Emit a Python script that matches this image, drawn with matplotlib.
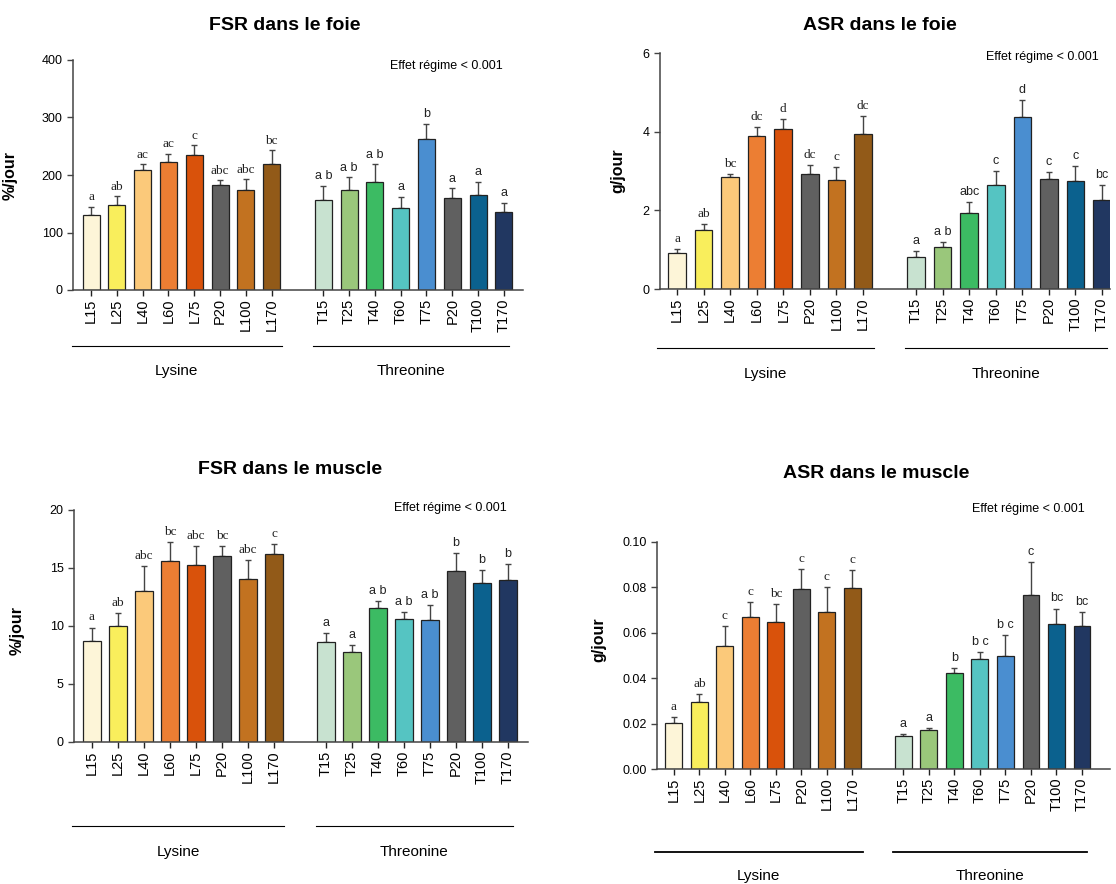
import numpy as np
import matplotlib
matplotlib.use("Agg")
import matplotlib.pyplot as plt
import matplotlib.transforms as mtrans

plt.rcParams['font.family'] = ['Liberation Sans', 'DejaVu Sans']

# categories
lys_cats = ['L15', 'L25', 'L40', 'L60', 'L75', 'P20', 'L100', 'L170']
thr_cats = ['T15', 'T25', 'T40', 'T60', 'T75', 'P20', 'T100', 'T170']

lys_colors = ['#FDF5D8', '#F9EE5C', '#FBC97A', '#EC7E33', '#D9520B', '#606060', '#C27220', '#925A18']
thr_colors = ['#C8E2D0', '#9AC77B', '#3CBB63', '#55C4C2', '#4A8ED0', '#606060', '#0B618E', '#213761']

# FSR dans le foie
fsr_foie_lys = [131, 148, 209, 223, 235, 182, 174, 220]
fsr_foie_lys_err = [14, 15, 10, 14, 17, 9, 19, 23]
fsr_foie_lys_let = ['a', 'ab', 'ac', 'ac', 'c', 'abc', 'abc', 'bc']
fsr_foie_thr = [156, 174, 187, 142, 263, 160, 165, 135]
fsr_foie_thr_err = [25, 22, 32, 20, 26, 17, 23, 17]
fsr_foie_thr_let = ['a b', 'a b', 'a b', 'a', 'b', 'a', 'a', 'a']

# ASR dans le foie
asr_foie_lys = [0.92, 1.49, 2.84, 3.88, 4.07, 2.92, 2.77, 3.94]
asr_foie_lys_err = [0.10, 0.17, 0.09, 0.24, 0.25, 0.23, 0.33, 0.45]
asr_foie_lys_let = ['a', 'ab', 'bc', 'dc', 'd', 'dc', 'c', 'dc']
asr_foie_thr = [0.81, 1.07, 1.94, 2.64, 4.37, 2.80, 2.75, 2.26]
asr_foie_thr_err = [0.16, 0.12, 0.28, 0.35, 0.44, 0.17, 0.37, 0.38]
asr_foie_thr_let = ['a', 'a b', 'abc', 'c', 'd', 'c', 'c', 'bc']

# FSR dans le muscle
fsr_mus_lys = [8.67, 10.0, 13.05, 15.59, 15.22, 16.05, 14.06, 16.22]
fsr_mus_lys_err = [1.2, 1.15, 2.1, 1.67, 1.67, 0.81, 1.59, 0.87]
fsr_mus_lys_let = ['a', 'ab', 'abc', 'bc', 'abc', 'bc', 'abc', 'c']
fsr_mus_thr = [8.62, 7.78, 11.53, 10.6, 10.49, 14.78, 13.72, 13.95]
fsr_mus_thr_err = [0.77, 0.58, 0.63, 0.58, 1.35, 1.52, 1.12, 1.41]
fsr_mus_thr_let = ['a', 'a', 'a b', 'a b', 'a b', 'b', 'b', 'b']

# ASR dans le muscle
asr_mus_lys = [0.0204, 0.0297, 0.054, 0.0671, 0.0647, 0.0793, 0.0691, 0.0797]
asr_mus_lys_err = [0.0025, 0.0035, 0.0088, 0.0066, 0.0081, 0.0088, 0.0109, 0.0081]
asr_mus_lys_let = ['a', 'ab', 'c', 'c', 'bc', 'c', 'c', 'c']
asr_mus_thr = [0.0144, 0.0172, 0.0424, 0.0484, 0.0499, 0.0765, 0.0638, 0.0631]
asr_mus_thr_err = [0.0012, 0.0010, 0.0019, 0.0031, 0.0091, 0.0147, 0.0069, 0.0060]
asr_mus_thr_let = ['a', 'a', 'b', 'b c', 'b c', 'c', 'bc', 'bc']

W, H = 1116, 884
fig = plt.figure(figsize=(W / 100, H / 100), dpi=100)


def rect(left, top, right, bottom):
    return [left / W, 1 - bottom / H, (right - left) / W, (bottom - top) / H]


def panel(r, title, tpos, lys, lys_err, lys_let, thr, thr_err, thr_let,
          ymax, yticks, ylab, ylab_xy, note_xy, xlim, grp_y, off, lw_grp=0.8):
    ax = fig.add_axes(r)
    x_l = np.arange(8)
    x_t = np.arange(8) + 9
    for xs, vals, errs, lets, cols, serif in [(x_l, lys, lys_err, lys_let, lys_colors, True),
                                             (x_t, thr, thr_err, thr_let, thr_colors, False)]:
        ax.bar(xs, vals, width=0.66, color=cols, edgecolor='#222222', linewidth=0.9, zorder=2)
        ax.errorbar(xs, vals, yerr=[np.zeros(8), errs], fmt='none', ecolor='#444444',
                    elinewidth=1, capsize=2.5, capthick=1, zorder=1)
        for x, v, e, t in zip(xs, vals, errs, lets):
            ax.text(x, v + e + off, t, ha='center', va='bottom', fontsize=9.5 if serif else 9,
                    family='Liberation Serif' if serif else 'Liberation Sans', color='#222222')
    ax.set_xlim(*xlim)
    ax.set_ylim(0, ymax)
    ax.set_yticks(yticks)
    ax.set_xticks(list(x_l) + list(x_t))
    ax.set_xticklabels(lys_cats + thr_cats, rotation=90, fontsize=10.5)
    ax.tick_params(axis='y', labelsize=9, length=4, width=1, color='#444444')
    ax.tick_params(axis='x', length=4, width=1, color='#222222', pad=2)
    for s in ['top', 'right']:
        ax.spines[s].set_visible(False)
    for s in ['left', 'bottom']:
        ax.spines[s].set_color('#444444')
        ax.spines[s].set_linewidth(1.1)
    ax.set_ylabel(ylab, fontsize=11.5, fontweight='bold')
    ax.yaxis.set_label_coords(*ylab_xy)
    ax.text(note_xy[0], note_xy[1], 'Effet régime < 0.001', transform=ax.transAxes,
            ha='center', va='center', fontsize=9)
    tr = mtrans.blended_transform_factory(ax.transData, ax.transAxes)
    for (x0, x1), name in [((-0.75, 7.4), 'Lysine'), ((8.6, 16.2), 'Threonine')]:
        ax.plot([x0, x1], [grp_y[0], grp_y[0]], color='black', lw=lw_grp, transform=tr, clip_on=False)
        ax.text((x0 + x1) / 2, grp_y[1], name, transform=tr, ha='center', va='center', fontsize=11)
    fig.text(tpos[0] / W, 1 - tpos[1] / H, title, ha='center', va='center',
             fontsize=14, fontweight='bold')
    return ax


panel(rect(73, 60, 523, 290), 'FSR dans le foie', (285, 25),
      fsr_foie_lys, fsr_foie_lys_err, fsr_foie_lys_let,
      fsr_foie_thr, fsr_foie_thr_err, fsr_foie_thr_let,
      400, [0, 100, 200, 300, 400], '%/jour', (-0.122, 0.5), (0.83, 0.974),
      (-0.7, 16.74), (-0.243, -0.352), 6)

panel(rect(660, 53, 1110, 289), 'ASR dans le foie', (880, 25),
      asr_foie_lys, asr_foie_lys_err, asr_foie_lys_let,
      asr_foie_thr, asr_foie_thr_err, asr_foie_thr_let,
      6, [0, 2, 4, 6], 'g/jour', (-0.076, 0.5), (0.85, 0.983),
      (-0.64, 16.3), (-0.25, -0.36), 0.1)

panel(rect(74, 510, 528, 742), 'FSR dans le muscle', (290, 470),
      fsr_mus_lys, fsr_mus_lys_err, fsr_mus_lys_let,
      fsr_mus_thr, fsr_mus_thr_err, fsr_mus_thr_let,
      20, [0, 5, 10, 15, 20], '%/jour', (-0.108, 0.48), (0.83, 1.01),
      (-0.69, 16.77), (-0.362, -0.474), 0.35)

ax4 = panel(rect(657, 542, 1110, 769), 'ASR dans le muscle', (876, 473),
            asr_mus_lys, asr_mus_lys_err, asr_mus_lys_let,
            asr_mus_thr, asr_mus_thr_err, asr_mus_thr_let,
            0.10, [0, 0.02, 0.04, 0.06, 0.08, 0.10], 'g/jour', (-0.112, 0.57), (0.82, 1.145),
            (-0.66, 17.1), (-0.366, -0.471), 0.0018, lw_grp=1.3)
ax4.set_yticklabels(['0.00', '0.02', '0.04', '0.06', '0.08', '0.10'])

fig.savefig('out.png', dpi=100)
